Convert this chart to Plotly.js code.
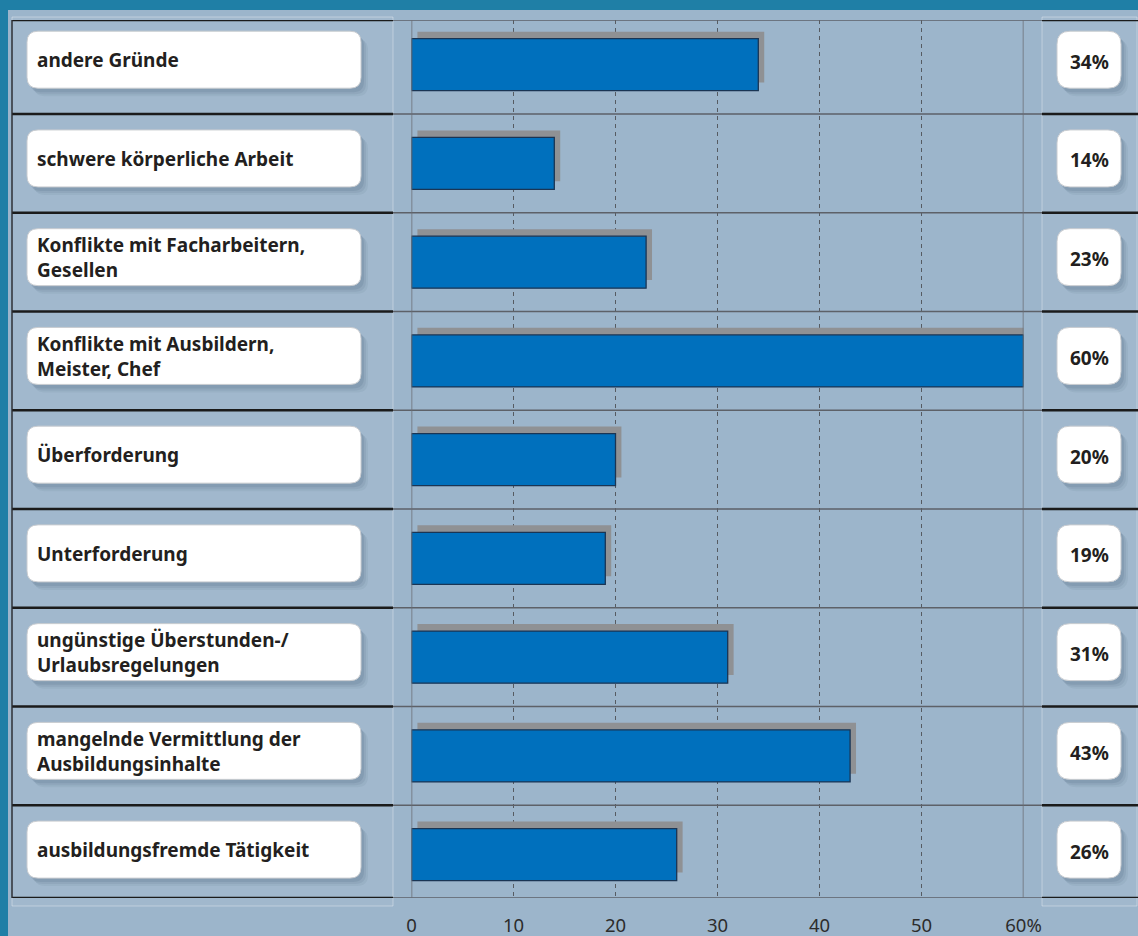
<!DOCTYPE html>
<html>
<head>
<meta charset="utf-8">
<script src="https://cdn.plot.ly/plotly-3.0.1.min.js"></script>
<style>
html,body{margin:0;padding:0;background:#1f7fa6;}
#chart{width:1138px;height:936px;}
</style>
</head>
<body>
<div id="chart"></div>
<script>
// ---- data ----
const categories = [
  "andere Gründe",
  "schwere körperliche Arbeit",
  "Konflikte mit Facharbeitern,<br>Gesellen",
  "Konflikte mit Ausbildern,<br>Meister, Chef",
  "Überforderung",
  "Unterforderung",
  "ungünstige Überstunden-/<br>Urlaubsregelungen",
  "mangelnde Vermittlung der<br>Ausbildungsinhalte",
  "ausbildungsfremde Tätigkeit"
];
const values = [34, 14, 23, 60, 20, 19, 31, 43, 26];
const valueLabels = ["34%", "14%", "23%", "60%", "20%", "19%", "31%", "43%", "26%"];
const tickValues = [0, 10, 20, 30, 40, 50, 60];
const tickLabels = ["0", "10", "20", "30", "40", "50", "60%"];

// ---- layout helpers (pixel geometry of the page) ----
const W = 1138, H = 936;
const px = v => v / W;            // x pixel -> paper
const py = v => 1 - v / H;        // y pixel -> paper
const UNIT = 98.75;               // pixels per row on the y axis
const rowPos = categories.map((_, i) => i);

function roundRect(x0, x1, yc, halfH, rPx) {
  const rx = rPx / W, ry = rPx / UNIT;
  const y0 = yc - halfH, y1 = yc + halfH;
  return `M${x0 + rx},${y0} L${x1 - rx},${y0} Q${x1},${y0} ${x1},${y0 + ry} ` +
         `L${x1},${y1 - ry} Q${x1},${y1} ${x1 - rx},${y1} L${x0 + rx},${y1} ` +
         `Q${x0},${y1} ${x0},${y1 - ry} L${x0},${y0 + ry} Q${x0},${y0} ${x0 + rx},${y0} Z`;
}

const shapes = [];
// panel background
shapes.push({type:"rect", xref:"paper", yref:"paper", x0:px(8), x1:1, y0:0, y1:py(10),
  fillcolor:"#9cb5cb", line:{width:0}, layer:"below"});
shapes.push({type:"rect", xref:"paper", yref:"paper", x0:px(12), x1:px(393), y0:py(906), y1:py(17),
  fillcolor:"rgba(255,255,255,0.05)", line:{color:"rgba(255,255,255,0.35)", width:1}, layer:"below"});
shapes.push({type:"rect", xref:"paper", yref:"paper", x0:px(1042), x1:px(1137), y0:py(906), y1:py(17),
  fillcolor:"rgba(255,255,255,0.05)", line:{color:"rgba(255,255,255,0.35)", width:1}, layer:"below"});

// row separators
const seps = [-0.452, 0.5, 1.5, 2.5, 3.5, 4.5, 5.5, 6.5, 7.5, 8.44];
seps.forEach(s => {
  shapes.push({type:"line", xref:"paper", yref:"y", x0:px(12), x1:px(393), y0:s, y1:s,
    line:{color:"#1b1b1b", width:2.5}});
  shapes.push({type:"line", xref:"paper", yref:"y", x0:px(393), x1:px(1042), y0:s, y1:s,
    line:{color:"#5d6168", width:1.5}});
  shapes.push({type:"line", xref:"paper", yref:"y", x0:px(1042), x1:1, y0:s, y1:s,
    line:{color:"#1b1b1b", width:2.5}});
});
shapes.push({type:"line", xref:"paper", yref:"y", x0:px(12), x1:px(12), y0:-0.452, y1:8.44,
  line:{color:"#2a2d33", width:1.5}});
[0, 60].forEach(v => {
  shapes.push({type:"line", xref:"x", yref:"y", x0:v, x1:v, y0:-0.452, y1:8.44,
    line:{color:"#6a6e74", width:1.5}});
});

// label boxes and value boxes
rowPos.forEach(i => {
  const yc = i - 0.05;
  const hh = 28.5 / UNIT;
  [[3,4,0.10],[5,6,0.08],[7,8,0.06]].forEach(([dx,dy,op]) => {
    shapes.push({type:"path", xref:"paper", yref:"y",
      path: roundRect(px(27+dx), px(361+dx), yc + dy/UNIT, hh, 11),
      fillcolor:`rgba(40,60,90,${op})`, line:{width:0}});
    shapes.push({type:"path", xref:"paper", yref:"y",
      path: roundRect(px(1057+dx), px(1121+dx), yc + dy/UNIT, hh, 13),
      fillcolor:`rgba(40,60,90,${op})`, line:{width:0}});
  });
  shapes.push({type:"path", xref:"paper", yref:"y",
    path: roundRect(px(27), px(361), yc, hh, 11),
    fillcolor:"#ffffff", line:{color:"#c9ccd0", width:1}});
  shapes.push({type:"path", xref:"paper", yref:"y",
    path: roundRect(px(1057), px(1121), yc, hh, 13),
    fillcolor:"#ffffff", line:{color:"#c9ccd0", width:1}});
});

const annotations = [];
rowPos.forEach(i => {
  annotations.push({xref:"paper", yref:"y", x:px(35), y:i - 0.045, xanchor:"left", yanchor:"middle",
    text:categories[i], showarrow:false, align:"left",
    font:{family:"Noto Sans, DejaVu Sans, sans-serif", size:19, color:"#231f20", weight:700}});
  annotations.push({xref:"paper", yref:"y", x:px(1089), y:i - 0.03, xanchor:"center", yanchor:"middle",
    text:"<b>" + valueLabels[i] + "</b>", showarrow:false,
    font:{family:"Noto Sans, DejaVu Sans, sans-serif", size:19, color:"#231f20"}});
});

const shadowTrace = {
  type:"bar", orientation:"h", x:values, y:rowPos, base:0.58,
  width:0.516, offset:-0.334,
  marker:{color:"#8f9194", line:{width:0}},
  hoverinfo:"skip", showlegend:false
};
const barTrace = {
  type:"bar", orientation:"h", x:values, y:rowPos,
  width:0.527, offset:-0.263,
  marker:{color:"#0070bd", line:{color:"#1a3554", width:1.3}},
  hoverinfo:"x", showlegend:false
};

const layout = {
  width:W, height:H,
  margin:{l:0, r:0, t:0, b:0},
  paper_bgcolor:"#1f7fa6",
  plot_bgcolor:"rgba(0,0,0,0)",
  barmode:"overlay",
  showlegend:false,
  xaxis:{
    domain:[411.5/W, 1023.5/W], range:[0, 60],
    tickmode:"array", tickvals:tickValues, ticktext:tickLabels,
    showgrid:true, gridcolor:"#565b62", gridwidth:1, griddash:"4px,4px",
    zeroline:false, showline:false, ticks:"",
    ticklabelstandoff:14,
    tickfont:{family:"Noto Sans, DejaVu Sans, sans-serif", size:18.5, color:"#2c2c2c"},
    fixedrange:true
  },
  yaxis:{
    domain:[1 - 898/H, 1 - 20/H], range:[8.44, -0.452],
    showgrid:false, zeroline:false, showticklabels:false, ticks:"", showline:false,
    fixedrange:true
  },
  shapes:shapes,
  annotations:annotations
};

Plotly.newPlot("chart", [shadowTrace, barTrace], layout, {displayModeBar:false, staticPlot:true});
</script>
</body>
</html>
